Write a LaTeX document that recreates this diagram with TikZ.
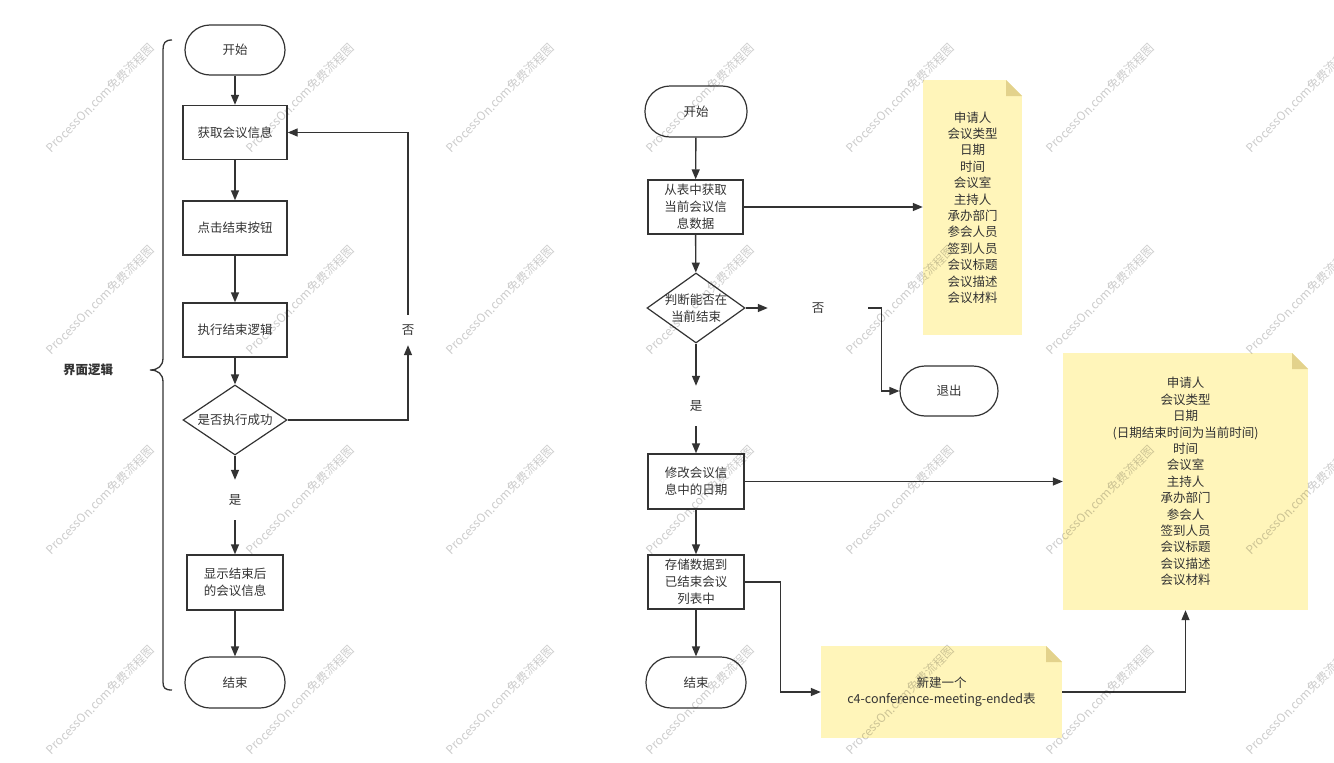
\documentclass[tikz,border=0pt]{standalone}
\usepackage{fontspec}
\setmainfont{Noto Sans CJK SC}
\usetikzlibrary{arrows.meta,shapes.geometric,calc}
\definecolor{ln}{HTML}{333333}
\definecolor{notey}{HTML}{FFF5BA}
\definecolor{foldc}{HTML}{E3D28C}
\begin{document}
\begin{tikzpicture}[x=1pt,y=-1pt,
  base/.style={font=\fontsize{12.5}{17}\selectfont, text=ln, align=center},
  proc/.style={base, draw=ln, line width=1.4pt, minimum width=104pt, minimum height=54pt, inner sep=2pt},
  term/.style={base, draw=ln, line width=1.2pt, rounded corners=25pt, minimum width=100pt, minimum height=50pt},
  dec/.style={diamond, draw=ln, line width=1.2pt, minimum width=104pt, minimum height=70pt, inner sep=0pt, aspect=1.5},
  lbl/.style={base, minimum width=40pt, minimum height=40pt, inner sep=0pt},
  note/.style={base, font=\fontsize{12.5}{16.4}\selectfont, fill=notey, inner sep=0pt,
    path picture={
      \fill[white] ([xshift=-16pt]path picture bounding box.north east) -- (path picture bounding box.north east) -- ([yshift=-16pt]path picture bounding box.north east) -- cycle;
      \fill[foldc] ([xshift=-16pt]path picture bounding box.north east) -- ([xshift=-16pt,yshift=-16pt]path picture bounding box.north east) -- ([yshift=-16pt]path picture bounding box.north east) -- cycle;}},
  arr/.style={draw=ln, line width=1.4pt, -{Triangle[length=10pt,width=8pt]}},
  wm/.style={font=\fontsize{12}{12}\selectfont, text=black, text opacity=0.2, rotate=45, inner sep=0pt},
]
\useasboundingbox (0,0) rectangle (1334,763);

% ---------- left flow ----------
\node[term] (ls) at (235,50) {开始};
\node[proc] (lb1) at (235,132.5) {获取会议信息};
\node[proc] (lb2) at (235,228) {点击结束按钮};
\node[proc] (lb3) at (235,330) {执行结束逻辑};
\node[dec, label={[base]center:是否执行成功}] (ld) at (235,420) {};
\node[lbl] (lyes) at (235,500) {是};
\node[lbl, minimum height=30pt] (lno) at (408,330) {否};
\node[proc, minimum width=96pt, minimum height=55pt] (lb4) at (235,582.5) {显示结束后\\的会议信息};
\node[term, minimum height=51pt] (le) at (235,682.5) {结束};

\draw[arr] (ls) -- (lb1);
\draw[arr] (lb1) -- (lb2);
\draw[arr] (lb2) -- (lb3);
\draw[arr] (lb3) -- (ld);
\draw[arr] (ld) -- (lyes);
\draw[arr] (lyes) -- (lb4);
\draw[arr] (lb4) -- (le);
\draw[arr] (ld.east) -| (lno.south);
\draw[arr] (lno.north) |- (lb1.east);

% brace
\draw[ln, line width=1.3pt] (172,40) .. controls (165,40) and (163,43) .. (163,50) -- (163,358)
  .. controls (163,366) and (158,370) .. (150,370) .. controls (158,370) and (163,374) .. (163,382)
  -- (163,682) .. controls (163,688) and (165,690) .. (172,690);
\node[base, font=\bfseries\fontsize{12.5}{15}\selectfont] (side) at (88,370) {界面逻辑};

% ---------- right flow ----------
\node[term, minimum width=102pt, minimum height=51pt] (rs) at (696,111.5) {开始};
\node[proc, minimum width=95pt] (rb1) at (695.5,207) {从表中获取\\当前会议信\\息数据};
\node[dec, minimum width=98pt, label={[base]center:判断能否在\\当前结束}] (rd) at (696,308) {};
\node[lbl, minimum width=100pt] (rno) at (818,308) {否};
\node[term, minimum width=98pt] (quit) at (949,391) {退出};
\node[lbl] (ryes) at (696,406) {是};
\node[proc, minimum width=96pt, minimum height=55pt] (rb2) at (696,481.5) {修改会议信\\息中的日期};
\node[proc, minimum width=96pt] (rb3) at (696,582) {存储数据到\\已结束会议\\列表中};
\node[term, minimum width=100pt, minimum height=51pt] (re) at (696,682.5) {结束};

\node[note, minimum width=99pt, minimum height=255pt] (n1) at (972.5,207.5)
  {申请人\\会议类型\\日期\\时间\\会议室\\主持人\\承办部门\\参会人员\\签到人员\\会议标题\\会议描述\\会议材料};
\node[note, minimum width=245pt, minimum height=257pt] (n2) at (1185.5,481.5)
  {申请人\\会议类型\\日期\\(日期结束时间为当前时间)\\时间\\会议室\\主持人\\承办部门\\参会人\\签到人员\\会议标题\\会议描述\\会议材料};
\node[note, minimum width=241pt, minimum height=92pt] (n3) at (941.5,692)
  {新建一个\\c4-conference-meeting-ended表};

\draw[arr] (rs) -- (rb1);
\draw[arr] (rb1) -- (rd);
\draw[arr] (rd.east) -- (rno.west);
\draw[arr] (rno.east) -| ([xshift=-18pt]quit.west) -- (quit.west);
\draw[arr] (rd) -- (ryes);
\draw[arr] (ryes) -- (rb2);
\draw[arr] (rb2) -- (rb3);
\draw[arr] (rb3) -- (re);
\draw[arr] (rb1.east) -- (rb1.east -| n1.west);
\draw[arr] (rb2.east) -- (rb2.east -| n2.west);
\draw[arr] (rb3.east) -- ++(36,0) |- (n3.west);
\draw[arr] (n3.east) -| (n2.south);

% ---------- watermark ----------
\foreach \x in {100,300,...,1300}
  \foreach \y in {98,300,500,700}
    \node[wm] at (\x,\y) {ProcessOn.com免费流程图};
\end{tikzpicture}
\end{document}
